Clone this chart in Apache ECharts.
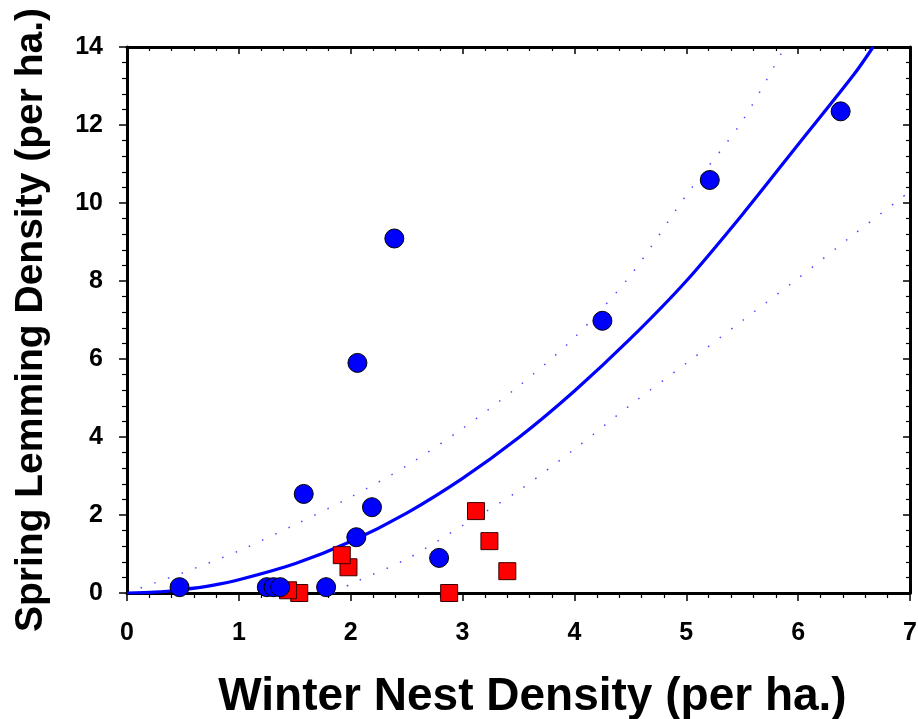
<!DOCTYPE html>
<html>
<head>
<meta charset="utf-8">
<script src="https://cdn.jsdelivr.net/npm/echarts@6/dist/echarts.min.js"></script>
<style>
html,body{margin:0;padding:0;background:#fff;}
#chart{width:918px;height:719px;}
</style>
</head>
<body>
<div id="chart"></div>
<script>
// Blue circles
const blueX = [0.47, 1.25, 1.31, 1.37, 1.78, 1.58, 2.06, 2.39, 2.05, 2.19, 2.79, 4.25, 5.21, 6.38];
const blueY = [0.15, 0.15, 0.15, 0.15, 0.15, 2.54, 5.90, 9.09, 1.43, 2.20, 0.90, 6.98, 10.59, 12.35];
// Red squares
const redX = [1.54, 1.44, 1.98, 1.92, 3.12, 3.24, 3.40, 2.88];
const redY = [0.00, 0.07, 0.66, 0.97, 2.10, 1.33, 0.56, 0.00];
// Fitted curve
const fitX = [0, 0.25, 0.5, 0.75, 1.0, 1.5, 2.0, 2.5, 3.0, 3.5, 4.0, 4.5, 5.0, 5.5, 6.0, 6.5, 6.67];
const fitY = [0, 0.02, 0.09, 0.19, 0.34, 0.75, 1.32, 2.05, 2.94, 3.98, 5.18, 6.52, 8.0, 9.7, 11.5, 13.3, 14.0];
// Upper band
const upperX = [0, 0.25, 0.5, 1.0, 1.5, 2.0, 2.5, 3.0, 3.5, 4.0, 4.5, 5.0, 5.5, 5.88];
const upperY = [0, 0.26, 0.52, 1.08, 1.75, 2.46, 3.26, 4.22, 5.3, 6.55, 8.14, 10.2, 12.1, 14.0];
// Lower band
const lowerX = [1.85, 2.0, 2.5, 3.0, 3.5, 4.0, 4.5, 5.0, 5.5, 6.0, 6.5, 7.0];
const lowerY = [0, 0.23, 0.87, 1.73, 2.62, 3.69, 4.82, 5.89, 6.98, 8.07, 9.2, 10.3];

const xTitle = 'Winter Nest Density (per ha.)';
const yTitle = 'Spring Lemming Density (per ha.)';

const zip = (a, b) => a.map((v, i) => [v, b[i]]);
const FONT = 'Liberation Sans, Arial, sans-serif';

const chart = echarts.init(document.getElementById('chart'), null, {renderer: 'canvas'});
const axisLineStyle = {color: '#000', width: 3};
const option = {
  animation: false,
  backgroundColor: '#fff',
  grid: {left: 127, right: 8, top: 47, bottom: 126, containLabel: false, outerBoundsMode: 'none'},
  xAxis: [
    {
      type: 'value', position: 'bottom', min: 0, max: 7, interval: 1,
      axisLine: {show: true, onZero: false, lineStyle: axisLineStyle},
      axisTick: {show: true, inside: false, length: 8, lineStyle: {color: '#000', width: 1.5}},
      minorTick: {show: true, splitNumber: 5, length: 5, lineStyle: {color: '#000', width: 1.2}},
      splitLine: {show: false},
      axisLabel: {show: true, margin: 28, color: '#000', fontSize: 25, fontWeight: 'bold', fontFamily: FONT},
      name: xTitle, nameLocation: 'middle', nameGap: 81,
      nameTextStyle: {color: '#000', fontSize: 46, fontWeight: 'bold', fontFamily: FONT, padding: [0, 0, 0, 28]}
    },
    {
      type: 'value', position: 'top', min: 0, max: 7, interval: 1,
      axisLine: {show: true, onZero: false, lineStyle: axisLineStyle},
      axisTick: {show: true, inside: true, length: 7, lineStyle: {color: '#000', width: 1.5}},
      minorTick: {show: true, splitNumber: 5, length: 4, lineStyle: {color: '#000', width: 1.2}},
      splitLine: {show: false},
      axisLabel: {show: false}
    }
  ],
  yAxis: [
    {
      type: 'value', position: 'left', min: 0, max: 14, interval: 2,
      axisLine: {show: true, onZero: false, lineStyle: axisLineStyle},
      axisTick: {show: true, inside: false, length: 8, lineStyle: {color: '#000', width: 1.5}},
      minorTick: {show: true, splitNumber: 5, length: 5, lineStyle: {color: '#000', width: 1.2}},
      splitLine: {show: false},
      axisLabel: {show: true, margin: 24, color: '#000', fontSize: 25, fontWeight: 'bold', fontFamily: FONT},
      name: yTitle, nameLocation: 'middle', nameGap: 76, nameRotate: 90,
      nameTextStyle: {color: '#000', fontSize: 39, fontWeight: 'bold', fontFamily: FONT}
    },
    {
      type: 'value', position: 'right', min: 0, max: 14, interval: 2,
      axisLine: {show: true, onZero: false, lineStyle: axisLineStyle},
      axisTick: {show: true, inside: true, length: 7, lineStyle: {color: '#000', width: 1.5}},
      minorTick: {show: true, splitNumber: 5, length: 4, lineStyle: {color: '#000', width: 1.2}},
      splitLine: {show: false},
      axisLabel: {show: false}
    }
  ],
  series: [
    {
      type: 'line', data: zip(upperX, upperY), smooth: 0.3, showSymbol: false, symbol: 'none',
      lineStyle: {color: '#4a4aff', width: 1.5, type: [1.5, 13]}, clip: true, z: 2
    },
    {
      type: 'line', data: zip(lowerX, lowerY), smooth: 0.3, showSymbol: false, symbol: 'none',
      lineStyle: {color: '#4a4aff', width: 1.5, type: [1.5, 13]}, clip: true, z: 2
    },
    {
      type: 'line', data: zip(fitX, fitY), smooth: 0.3, showSymbol: false, symbol: 'none',
      lineStyle: {color: '#0000ff', width: 3.2}, clip: true, z: 3
    },
    {
      type: 'scatter', data: zip(redX, redY), symbol: 'rect', symbolSize: 17,
      itemStyle: {color: '#ff0000', borderColor: '#3a0000', borderWidth: 1, opacity: 1}, z: 4
    },
    {
      type: 'scatter', data: zip(blueX, blueY), symbol: 'circle', symbolSize: 19,
      itemStyle: {color: '#0000ff', borderColor: '#000', borderWidth: 1, opacity: 1}, z: 5
    }
  ]
};
chart.setOption(option);
</script>
</body>
</html>
